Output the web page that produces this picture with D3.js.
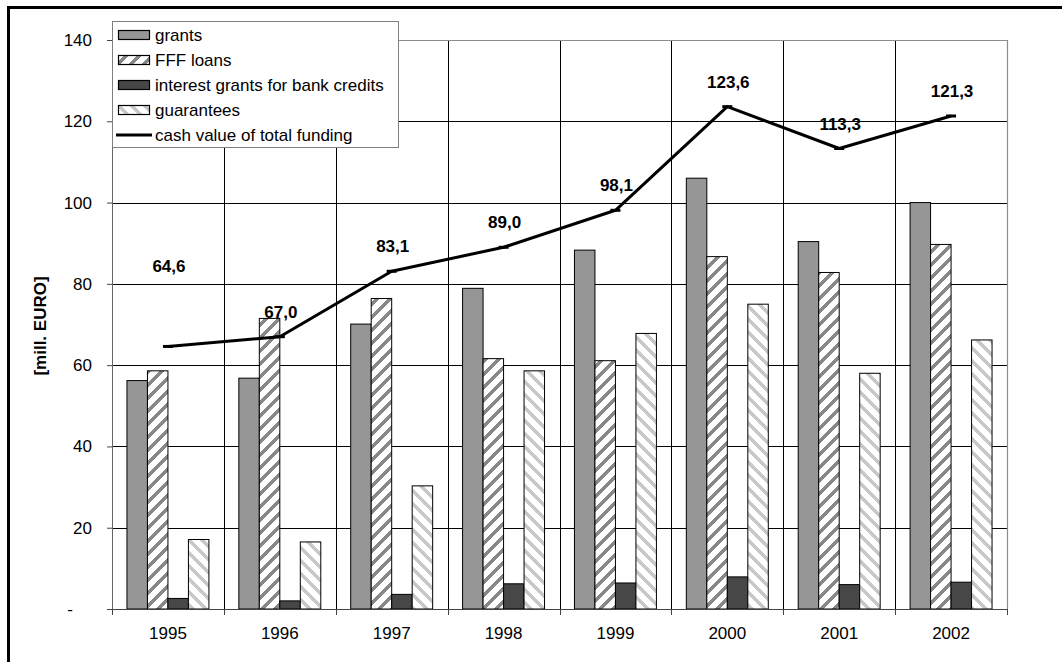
<!DOCTYPE html>
<html><head><meta charset="utf-8">
<script src="https://cdn.jsdelivr.net/npm/d3@7"></script>
<style>
html,body{margin:0;padding:0;background:#fff;}
svg{display:block;font-family:"Liberation Sans",Arial,sans-serif;}
</style></head>
<body>
<svg id="c" width="1062" height="662"></svg>
<script>
const years = ["1995","1996","1997","1998","1999","2000","2001","2002"];
const grants = [56.2, 56.8, 70.1, 78.9, 88.3, 106.0, 90.4, 100.0];
const fffLoans = [58.6, 71.5, 76.4, 61.6, 61.1, 86.7, 82.8, 89.7];
const interestGrants = [2.6, 2.0, 3.6, 6.2, 6.4, 7.9, 6.0, 6.6];
const guarantees = [17.1, 16.5, 30.3, 58.6, 67.8, 75.0, 58.0, 66.2];
const totalFunding = [64.6, 67.0, 83.1, 89.0, 98.1, 123.6, 113.3, 121.3];
const yTicks = [0, 20, 40, 60, 80, 100, 120, 140];
const seriesNames = ["grants", "FFF loans", "interest grants for bank credits", "guarantees"];
const lineName = "cash value of total funding";
const yTitle = "[mill. EURO]";

const FS = 17;
const svg = d3.select("#c");
const M = {left:112, right:1007, top:40, bottom:609};

// patterns
const defs = svg.append("defs");
function stripe(id, color, dir){
  const s = 13;
  const p = defs.append("pattern").attr("id", id).attr("patternUnits","userSpaceOnUse")
    .attr("width",s).attr("height",s);
  p.append("rect").attr("width",s).attr("height",s).attr("fill","#fff");
  const d = dir === "up"
    ? `M-3,3 L3,-3 M0,${s} L${s},0 M${s-3},${s+3} L${s+3},${s-3}`
    : `M-3,${s-3} L3,${s+3} M0,0 L${s},${s} M${s-3},-3 L${s+3},3`;
  p.append("path").attr("d", d).attr("stroke", color).attr("stroke-width", 3.8)
    .attr("shape-rendering","crispEdges");
}
stripe("pFFF", "#888888", "up");
stripe("pGuar", "#c8c8c8", "down");
const fills = ["#969696", "url(#pFFF)", "#474747", "url(#pGuar)"];

// outer frame
svg.append("rect").attr("x", 8.5).attr("y", 7.5).attr("width", 1070).attr("height", 680)
  .attr("fill","none").attr("stroke","#000").attr("stroke-width",3);

const x = d3.scaleBand().domain(years).range([M.left, M.right]).paddingInner(0).paddingOuter(0);
const y = d3.scaleLinear().domain([0,140]).range([M.bottom, M.top]);
const xs = d3.scaleBand().domain(d3.range(4)).range([0, x.bandwidth()]).paddingInner(0).paddingOuter(0.73);

// gridlines
const grid = svg.append("g").attr("shape-rendering","crispEdges");
grid.selectAll("line.h").data(yTicks.slice(1,-1)).join("line")
  .attr("x1", M.left).attr("x2", M.right).attr("y1", d=>Math.round(y(d))+0.5).attr("y2", d=>Math.round(y(d))+0.5)
  .attr("stroke","#000").attr("stroke-width",1);
grid.selectAll("line.v").data(years.slice(1)).join("line")
  .attr("x1", d=>Math.round(x(d))+0.5).attr("x2", d=>Math.round(x(d))+0.5).attr("y1", M.top).attr("y2", M.bottom)
  .attr("stroke","#000").attr("stroke-width",1);
svg.append("path").attr("d", `M${M.left},${M.top+0.5} H${M.right+0.5} V${M.bottom}`)
  .attr("fill","none").attr("stroke","#8c8c8c").attr("stroke-width",1.2);

// bars
const allSeries = [grants, fffLoans, interestGrants, guarantees];
const barG = svg.append("g");
allSeries.forEach((vals, si) => {
  barG.append("g").selectAll("rect").data(vals).join("rect")
    .attr("x", (d,i) => x(years[i]) + xs(si))
    .attr("width", xs.bandwidth())
    .attr("y", d => y(d))
    .attr("height", d => y(0) - y(d))
    .attr("fill", fills[si])
    .attr("stroke", "#000").attr("stroke-width", 1);
});

// axes
const yAxis = svg.append("g").attr("transform", `translate(${M.left},0)`)
  .call(d3.axisLeft(y).tickValues(yTicks).tickSize(5).tickPadding(15).tickFormat(d => d === 0 ? "-" : d));
yAxis.select(".domain").attr("stroke","#666");
yAxis.selectAll(".tick line").attr("stroke","#444");
yAxis.selectAll(".tick text").attr("font-size", FS).attr("fill","#000")
  .attr("font-family","\"Liberation Sans\",Arial,sans-serif")
  .attr("dx", d => d === 0 ? -19 : 0);

const xAxis = svg.append("g").attr("transform", `translate(0,${M.bottom})`);
xAxis.append("line").attr("x1", M.left).attr("x2", M.right).attr("y1",0.5).attr("y2",0.5).attr("stroke","#444");
const bounds = years.map(d => x(d)).concat([M.right]);
xAxis.selectAll("line.t").data(bounds).join("line")
  .attr("x1", d=>Math.round(d)+0.5).attr("x2", d=>Math.round(d)+0.5).attr("y1",0).attr("y2",6).attr("stroke","#444");
xAxis.selectAll("text").data(years).join("text")
  .attr("x", d => x(d) + x.bandwidth()/2).attr("y", 30)
  .attr("text-anchor","middle").attr("font-size",FS).text(d => d);

// line
const cx = (d,i) => x(years[i]) + x.bandwidth()/2;
svg.append("path").datum(totalFunding)
  .attr("d", d3.line().x(cx).y(d => y(d)))
  .attr("fill","none").attr("stroke","#000").attr("stroke-width",3).attr("stroke-linejoin","round");
svg.append("g").selectAll("line").data(totalFunding).join("line")
  .attr("x1", (d,i)=>cx(d,i)-5).attr("x2",(d,i)=>cx(d,i)+5)
  .attr("y1", d=>y(d)).attr("y2", d=>y(d)).attr("stroke","#000").attr("stroke-width",3);

// data labels
const fmt = v => v.toFixed(1).replace(".", ",");
svg.append("g").selectAll("text").data(totalFunding).join("text")
  .attr("x", (d,i)=>cx(d,i)+1)
  .attr("y", (d,i)=> y(d) - (i === 0 ? 74 : 19))
  .attr("text-anchor","middle").attr("font-size",FS).attr("font-weight","bold")
  .text(d => fmt(d));

// y title
svg.append("text").attr("transform","translate(46,326) rotate(-90)")
  .attr("text-anchor","middle").attr("font-size",FS).attr("font-weight","bold").text(yTitle);

// legend
const lg = svg.append("g");
lg.append("rect").attr("x",112.5).attr("y",21.5).attr("width",286).attr("height",126)
  .attr("fill","#fff").attr("stroke","#808080").attr("stroke-width",1);
const rowY = i => 35 + i*25;
seriesNames.forEach((n,i) => {
  lg.append("rect").attr("x",118.5).attr("y",rowY(i)-4.5).attr("width",31).attr("height",9)
    .attr("fill", fills[i]).attr("stroke","#000").attr("stroke-width",1.2);
  lg.append("text").attr("x",155).attr("y",rowY(i)+6).attr("font-size",FS).text(n);
});
lg.append("line").attr("x1",116).attr("x2",152).attr("y1",rowY(4)).attr("y2",rowY(4))
  .attr("stroke","#000").attr("stroke-width",3);
lg.append("text").attr("x",155).attr("y",rowY(4)+6).attr("font-size",FS).text(lineName);
</script>
</body></html>
